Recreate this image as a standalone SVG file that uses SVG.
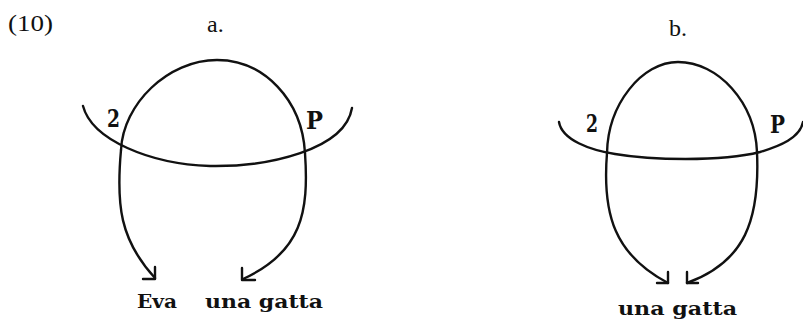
<svg xmlns="http://www.w3.org/2000/svg" width="803" height="320" viewBox="0 0 803 320">
<style>
.ln{fill:none;stroke:#111;stroke-width:2.4;stroke-linecap:round;stroke-linejoin:round}
.tm{font-family:"Liberation Serif","Times New Roman",serif;font-size:24px;fill:#111}
.lb{font-family:"DejaVu Serif","Liberation Serif",serif;font-weight:bold;font-size:25px;fill:#111}
.wd{font-family:"DejaVu Serif","Liberation Serif",serif;font-weight:bold;font-size:19px;fill:#111}
</style>
<rect width="803" height="320" fill="#fff"/>
<g id="titles">
<text class="tm" x="8" y="31" textLength="45" lengthAdjust="spacingAndGlyphs">(10)</text>
<text class="tm" x="207" y="32">a.</text>
<text class="tm" x="669" y="35.5">b.</text>
</g>
<g id="diagram-a">
<g id="a-label-2"><text class="lb" x="107" y="127" textLength="13" lengthAdjust="spacingAndGlyphs">2</text></g>
<g id="a-label-P"><text class="lb" x="306" y="129" textLength="17" lengthAdjust="spacingAndGlyphs">P</text></g>
<g id="a-Eva"><text class="wd" x="137" y="308" textLength="40" lengthAdjust="spacingAndGlyphs">Eva</text></g>
<g id="a-una-gatta"><text class="wd" x="205" y="308" textLength="118" lengthAdjust="spacingAndGlyphs">una gatta</text></g>
</g>
<g id="diagram-b">
<g id="b-label-2"><text class="lb" x="586" y="132" textLength="12" lengthAdjust="spacingAndGlyphs">2</text></g>
<g id="b-label-P"><text class="lb" x="770" y="133" textLength="15" lengthAdjust="spacingAndGlyphs">P</text></g>
<g id="b-una-gatta"><text class="wd" x="618" y="315" textLength="119" lengthAdjust="spacingAndGlyphs">una gatta</text></g>
</g>
<g id="connectors">
<path class="ln" d="M121,150 C123,104 168,60 217,60 C264,60 302,100 305,153"/>
<path class="ln" d="M83,106 C92,140 150,164 210,166 C268,167 345,150 352,108"/>
<path class="ln" d="M121,150 C116,205 120,240 155,278"/>
<path class="ln" d="M143,279 H155 V267"/>
<path class="ln" d="M305,153 C309,212 302,252 243,279"/>
<path class="ln" d="M255,280 H242 V268"/>
<path class="ln" d="M607,153 C608,104 642,62 678,62 C718,62 755,102 757,152"/>
<path class="ln" d="M559,122 C562,140 590,150 615,154 C650,160 720,162 760,152 C780,146 800,138 803,122"/>
<path class="ln" d="M607,153 C602,215 615,255 668,283"/>
<path class="ln" d="M657,283 H668 V272"/>
<path class="ln" d="M757,152 C760,220 745,262 687,283"/>
<path class="ln" d="M698,283 H687 V272"/>
</g>
</svg>
